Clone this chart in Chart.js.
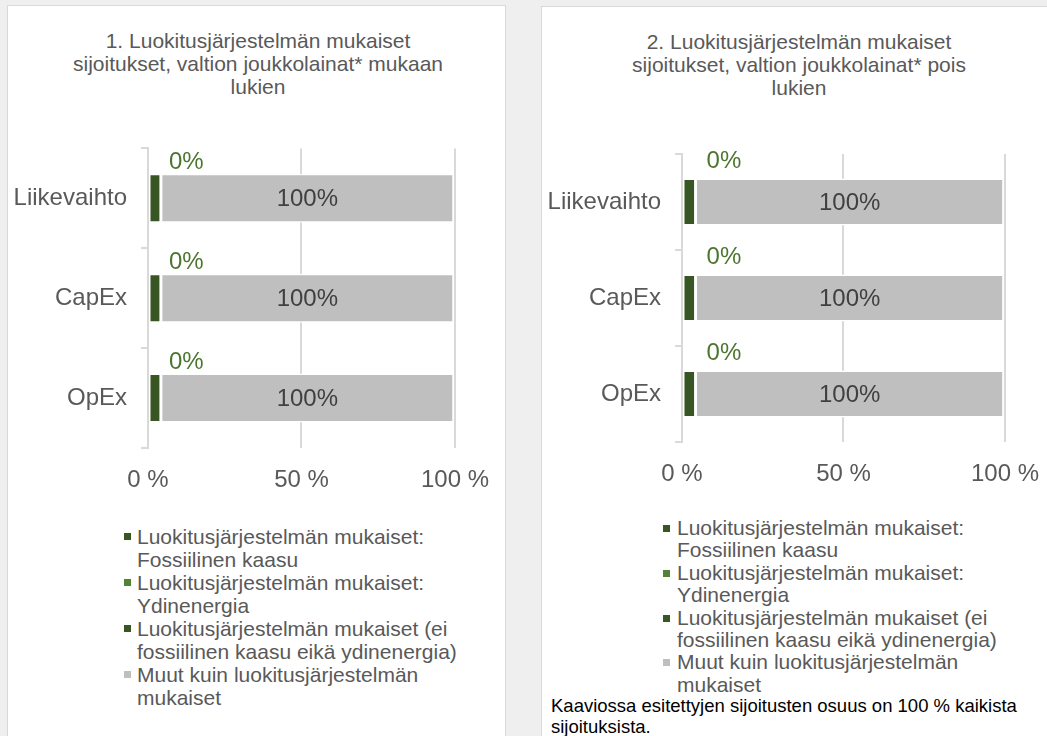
<!DOCTYPE html>
<html>
<head>
<meta charset="utf-8">
<script src="https://cdn.jsdelivr.net/npm/chart.js@4.4.0/dist/chart.umd.min.js"></script>
<style>
  body { margin: 0; background: #efefef; font-family: "Liberation Sans", Arial, sans-serif; }
  #sivu { position: relative; width: 1047px; height: 736px; overflow: hidden; }
  .paneeli { position: absolute; background: #fff; border: 1px solid #d9d9d9; }
  .otsikko { position: absolute; text-align: center; color: #595959; font-size: 21px; line-height: 23px; }
  canvas { position: absolute; }
  .selite { position: absolute; color: #595959; font-size: 21px; margin: 0; padding: 0; list-style: none; }
  .selite li { position: relative; }
  .selite span { position: absolute; width: 7px; height: 7px; }
  .huom { position: absolute; color: #000; font-size: 18.5px; line-height: 21px; }
</style>
</head>
<body>
<div id="sivu">
  <div class="paneeli" style="left:7px; top:5px; width:497px; height:760px;"></div>
  <div class="paneeli" style="left:541px; top:6px; width:540px; height:760px;"></div>

  <div class="otsikko" style="left:9px; top:29px; width:498px;">1. Luokitusjärjestelmän mukaiset<br>sijoitukset, valtion joukkolainat* mukaan<br>lukien</div>
  <div class="otsikko" style="left:541px; top:30px; width:516px;">2. Luokitusjärjestelmän mukaiset<br>sijoitukset, valtion joukkolainat* pois<br>lukien</div>

  <canvas id="kaavio1" width="500" height="380" style="left:7px; top:120px;"></canvas>
  <canvas id="kaavio2" width="516" height="380" style="left:541px; top:120px;"></canvas>

  <ul class="selite" id="selite1" style="left:137px; top:525px; width:332px; line-height:23px;"></ul>
  <ul class="selite" id="selite2" style="left:677px; top:517px; width:332px; line-height:22.4px;"></ul>

  <div class="huom" style="left:551px; top:695px; width:482px;">Kaaviossa esitettyjen sijoitusten osuus on 100 % kaikista sijoituksista.</div>
</div>

<script>
var kategoriat = ['Liikevaihto', 'CapEx', 'OpEx'];
var sarjat = [
  'Luokitusjärjestelmän mukaiset: Fossiilinen kaasu',
  'Luokitusjärjestelmän mukaiset: Ydinenergia',
  'Luokitusjärjestelmän mukaiset (ei fossiilinen kaasu eikä ydinenergia)',
  'Muut kuin luokitusjärjestelmän mukaiset'
];
var varit = ['#375623', '#548235', '#375623', '#bfbfbf'];
var xTikit = [0, 50, 100];

// 1. valtion joukkolainat mukaan lukien
var fossiili1 = [0, 0, 0];
var ydin1 = [0, 0, 0];
var mukaiset1 = [4.2, 4.2, 4.2];
var muut1 = [95.4, 95.4, 95.4];
var mukaisetTeksti1 = ['0%', '0%', '0%'];
var muutTeksti1 = ['100%', '100%', '100%'];

// 2. valtion joukkolainat pois lukien
var fossiili2 = [0, 0, 0];
var ydin2 = [0, 0, 0];
var mukaiset2 = [4.2, 4.2, 4.2];
var muut2 = [95.4, 95.4, 95.4];
var mukaisetTeksti2 = ['0%', '0%', '0%'];
var muutTeksti2 = ['100%', '100%', '100%'];

var fontti = '"Liberation Sans", Arial, sans-serif';

function tekstit(mukaisetT, muutT, siirto, nosto) {
  return {
    id: 'tekstit',
    afterDatasetsDraw: function(chart) {
      var ctx = chart.ctx;
      ctx.save();
      ctx.font = '24px ' + fontti;
      ctx.textBaseline = 'middle';
      chart.getDatasetMeta(2).data.forEach(function(bar, i) {
        ctx.fillStyle = '#4b7630';
        ctx.textAlign = 'left';
        ctx.fillText(mukaisetT[i], bar.x + siirto, bar.y - nosto);
      });
      chart.getDatasetMeta(3).data.forEach(function(bar, i) {
        ctx.fillStyle = '#404040';
        ctx.textAlign = 'center';
        ctx.fillText(muutT[i], (bar.x + bar.base) / 2, bar.y + 1);
      });
      ctx.restore();
    }
  };
}

function teeKaavio(id, arvot, pad, yLeveys, xKorkeus, plugin) {
  var ctx = document.getElementById(id).getContext('2d');
  return new Chart(ctx, {
    type: 'bar',
    data: {
      labels: kategoriat,
      datasets: sarjat.map(function(nimi, i) {
        return {
          label: nimi,
          data: arvot[i],
          backgroundColor: varit[i],
          borderColor: '#ffffff',
          borderWidth: 1.5,
          borderSkipped: false,
          categoryPercentage: 1,
          barPercentage: 0.49
        };
      })
    },
    options: {
      indexAxis: 'y',
      responsive: false,
      animation: false,
      devicePixelRatio: 1,
      layout: { padding: pad },
      plugins: { legend: { display: false }, tooltip: { enabled: false }, title: { display: false } },
      scales: {
        x: {
          stacked: true,
          min: 0,
          max: 100,
          afterBuildTicks: function(s) { s.ticks = xTikit.map(function(v) { return { value: v }; }); },
          afterFit: function(s) { s.height = xKorkeus; },
          grid: { color: '#d9d9d9', lineWidth: 2, drawTicks: false },
          border: { display: false },
          ticks: {
            padding: 18,
            maxRotation: 0,
            color: '#595959',
            font: { family: fontti, size: 24 },
            callback: function(v) { return v + ' %'; }
          }
        },
        y: {
          stacked: true,
          afterFit: function(s) { s.width = yLeveys; },
          grid: { drawOnChartArea: false, drawTicks: true, tickLength: 7, color: '#d9d9d9', lineWidth: 2, offset: true },
          border: { display: true, color: '#d9d9d9', width: 2 },
          ticks: { padding: 14, color: '#595959', font: { family: fontti, size: 24 } }
        }
      }
    },
    plugins: [plugin]
  });
}

teeKaavio('kaavio1', [fossiili1, ydin1, mukaiset1, muut1],
  { top: 28, right: 51, left: 0, bottom: 0 }, 141, 52,
  tekstit(mukaisetTeksti1, muutTeksti1, 8, 36));
teeKaavio('kaavio2', [fossiili2, ydin2, mukaiset2, muut2],
  { top: 34, right: 51, left: 0, bottom: 0 }, 141, 58,
  tekstit(mukaisetTeksti2, muutTeksti2, 11, 41));

function teeSelite(id, merkkiX) {
  var ul = document.getElementById(id);
  sarjat.forEach(function(nimi, i) {
    var li = document.createElement('li');
    var m = document.createElement('span');
    m.style.background = varit[i];
    m.style.left = merkkiX + 'px';
    m.style.top = '8px';
    li.appendChild(m);
    li.appendChild(document.createTextNode(nimi));
    ul.appendChild(li);
  });
}
teeSelite('selite1', -13);
teeSelite('selite2', -14);
</script>
</body>
</html>
